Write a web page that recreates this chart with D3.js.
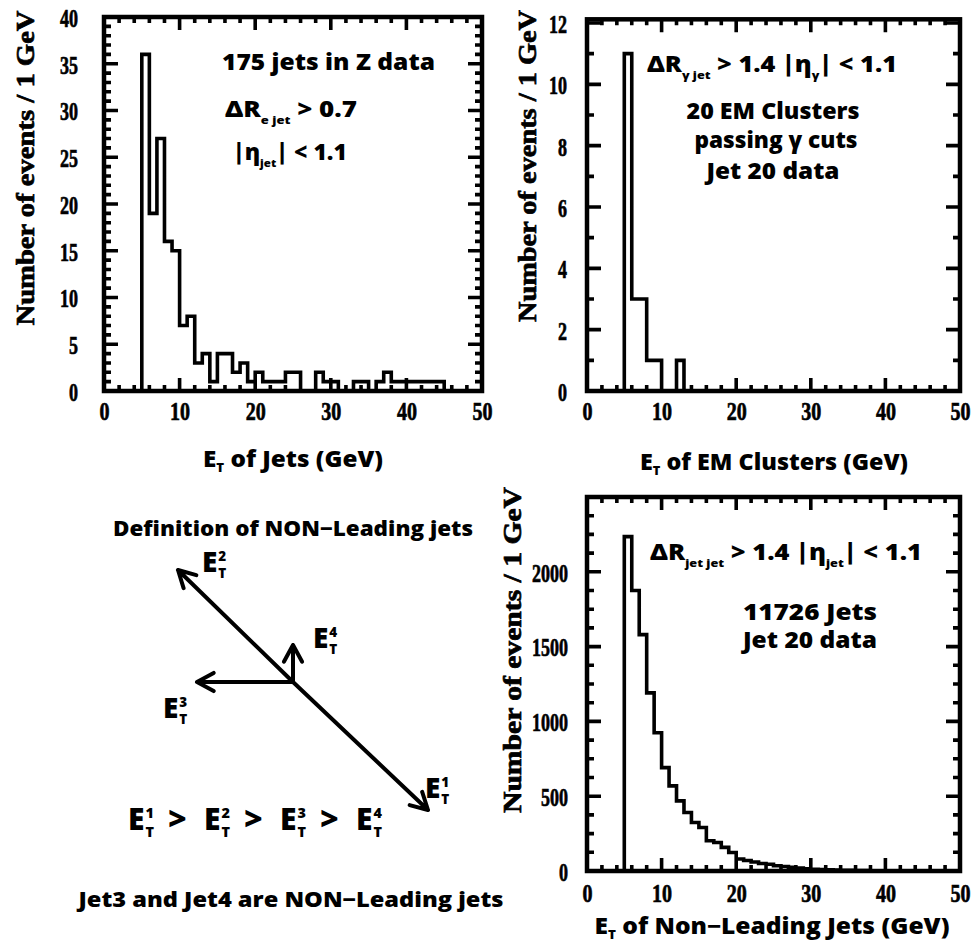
<!DOCTYPE html>
<html>
<head>
<meta charset="utf-8">
<script src="https://cdn.jsdelivr.net/npm/d3@7"></script>
<style>
  body { margin: 0; background: #fff; }
  .ann { font-family: "Open Sans", "DejaVu Sans", sans-serif; font-weight: 800; fill: #000; }
  .num { font-family: "Liberation Serif", "DejaVu Serif", serif; font-weight: 700; fill: #000; stroke: #000; stroke-width: 0.7px; }
</style>
</head>
<body>
<div id="chart"></div>
<script>
// histogram data, 1 GeV bins, first bin starts at 5 GeV
var binStart = 5;
var zJetCounts = [36, 19, 27, 16, 15, 7, 8, 3, 4, 1, 4, 4, 2, 3, 1, 2, 1, 1, 1, 2,
                  2, 0, 0, 2, 1, 1, 0, 0, 1, 1, 0, 1, 2, 1, 1, 1, 1, 1, 1, 1];
var emCounts = [11, 3, 3, 1, 1, 0, 0, 1];
var nonLeadCounts = [2235, 1875, 1580, 1191, 924, 691, 569, 469, 391, 324, 291, 202, 191, 158, 124,
                     80, 70, 60, 50, 45, 35, 30, 25, 20, 15, 12, 10, 8, 6, 5, 4, 3, 3, 2, 2, 1];

// tick labels
var xTickLabels = [0, 10, 20, 30, 40, 50];
var zJetYLabels = [0, 5, 10, 15, 20, 25, 30, 35, 40];
var emYLabels = [0, 2, 4, 6, 8, 10, 12];
var nonLeadYLabels = [0, 500, 1000, 1500, 2000];

// jet transverse energy vectors for the sketch (arbitrary units, y up)
var jetNames = ["1", "2", "3", "4"];
var jetVx = [1.35, -1.15, -0.96, 0];
var jetVy = [-1.28, 1.12, 0, 0.37];

var W = 976, H = 944;
var svg = d3.select("#chart").append("svg")
    .attr("width", W)
    .attr("height", H);

// draws one histogram panel
function drawPanel(p) {
  var g = svg.append("g");
  var x = d3.scaleLinear().domain([0, 50]).range([p.x0, p.x1]);
  var y = d3.scaleLinear().domain([0, p.ymax]).range([p.y0, p.y1]);
  var yTop = y(p.frameTop);

  // tick labels
  var xl = g.append("g")
    .attr("transform", "translate(0," + p.y0 + ")")
    .call(d3.axisBottom(x).tickValues(xTickLabels).tickSize(0).tickFormat(d3.format("d")));
  xl.select(".domain").remove();
  xl.selectAll("text")
    .attr("class", "num")
    .attr("y", p.xLabelY - p.y0)
    .attr("dy", null)
    .style("font-size", "26px")
    .attr("textLength", function(d) { return String(d).length * 10; })
    .attr("lengthAdjust", "spacingAndGlyphs");

  var yl = g.append("g")
    .attr("transform", "translate(" + p.x0 + ",0)")
    .call(d3.axisLeft(y).tickValues(p.yLabels).tickSize(0).tickFormat(d3.format("d")));
  yl.select(".domain").remove();
  yl.selectAll("text")
    .attr("class", "num")
    .attr("x", -p.yLabelGap)
    .attr("dy", "0.36em")
    .style("font-size", "26px")
    .attr("textLength", function(d) { return String(d).length * 9; })
    .attr("lengthAdjust", "spacingAndGlyphs");

  // histogram outline
  var pts = [[binStart, 0]];
  p.counts.forEach(function(c, i) {
    pts.push([binStart + i, c]);
    pts.push([binStart + i + 1, c]);
  });
  pts.push([binStart + p.counts.length, 0]);
  var histD = d3.line().x(function(d) { return x(d[0]); }).y(function(d) { return y(d[1]); })(pts);

  // inward ticks on all four sides, added to the same outline path
  var tk = d3.path();
  [[d3.range(0, 50.01, 2), 6], [d3.range(0, 50.01, 10), 13]].forEach(function(s) {
    s[0].forEach(function(v) {
      tk.moveTo(x(v), p.y0); tk.lineTo(x(v), p.y0 - s[1]);
      tk.moveTo(x(v), yTop); tk.lineTo(x(v), yTop + s[1]);
    });
  });
  [[d3.range(0, p.ymax + 0.001, p.yMinor), 7], [p.yLabels, 14]].forEach(function(s) {
    s[0].forEach(function(v) {
      tk.moveTo(p.x0, y(v)); tk.lineTo(p.x0 + s[1], y(v));
      tk.moveTo(p.x1, y(v)); tk.lineTo(p.x1 - s[1], y(v));
    });
  });

  g.append("path")
    .attr("fill", "none")
    .attr("stroke", "#000")
    .attr("stroke-width", 3.6)
    .attr("d", histD + tk.toString());

  // frame
  g.append("rect")
    .attr("x", p.x0)
    .attr("y", yTop)
    .attr("width", p.x1 - p.x0)
    .attr("height", p.y0 - yTop)
    .attr("fill", "none")
    .attr("stroke", "#000")
    .attr("stroke-width", 4.5);

  // y axis title
  g.append("text")
    .attr("class", "num")
    .attr("transform", "translate(" + p.yTitleX + "," + p.yTitleY + ") rotate(-90)")
    .attr("text-anchor", "middle")
    .attr("dy", "0.35em")
    .style("font-size", "25px")
    .attr("textLength", p.yTitleLen)
    .attr("lengthAdjust", "spacingAndGlyphs")
    .text("Number of events / 1 GeV");

  // x axis title: E_T of ...
  var xt = g.append("text")
    .attr("class", "ann")
    .attr("x", p.xTitleX)
    .attr("y", p.xTitleY)
    .attr("text-anchor", "middle")
    .style("font-size", "22px");
  xt.append("tspan").text("E");
  xt.append("tspan").attr("dy", 5).style("font-size", "12px").text("T");
  xt.append("tspan").attr("dy", -5).text(p.xTitle);
  xt.attr("textLength", p.xTitleLen).attr("lengthAdjust", "spacingAndGlyphs");

  return g;
}

// text with subscripts: parts = [[text, isSub], ...]
function subText(g, xPos, yPos, size, parts, anchor, len) {
  var t = g.append("text")
    .attr("class", "ann")
    .attr("x", xPos)
    .attr("y", yPos)
    .attr("text-anchor", anchor || "start")
    .style("font-size", size + "px");
  var sub = false;
  parts.forEach(function(pt) {
    var s = t.append("tspan").text(pt[0]);
    if (pt[1] && !sub) { s.attr("dy", size * 0.3).style("font-size", (size * 0.5) + "px"); sub = true; }
    else if (pt[1]) { s.style("font-size", (size * 0.5) + "px"); }
    else if (sub) { s.attr("dy", -size * 0.3); sub = false; }
  });
  if (len) t.attr("textLength", len).attr("lengthAdjust", "spacingAndGlyphs");
  return t;
}

// ---- panel 1: jets in Z data
var g1 = drawPanel({
  x0: 104, x1: 482, y0: 391, y1: 17, ymax: 40, frameTop: 40, yMinor: 1,
  yLabels: zJetYLabels, counts: zJetCounts,
  xLabelY: 420, yLabelGap: 26, yTitleX: 25, yTitleY: 168, yTitleLen: 315,
  xTitleX: 293, xTitleY: 467, xTitle: " of Jets (GeV)", xTitleLen: 180
});
subText(g1, 222, 70, 22, [["175 jets in Z data"]], "start", 213);
subText(g1, 225, 117, 22, [["ΔR"], ["e jet", 1], [" > 0.7"]], "start", 132);
subText(g1, 233, 160, 22, [["|η"], ["jet", 1], ["| < 1.1"]], "start", 114);

// ---- panel 2: EM clusters
var g2 = drawPanel({
  x0: 587, x1: 960, y0: 391, y1: 23, ymax: 12, frameTop: 12.12, yMinor: 1,
  yLabels: emYLabels, counts: emCounts,
  xLabelY: 420, yLabelGap: 20, yTitleX: 527, yTitleY: 166, yTitleLen: 312,
  xTitleX: 774, xTitleY: 470, xTitle: " of EM Clusters (GeV)", xTitleLen: 268
});
subText(g2, 647, 72, 22, [["ΔR"], ["γ jet", 1], [" > 1.4  |η"], ["γ", 1], ["| < 1.1"]], "start", 250);
subText(g2, 773, 119, 22, [["20 EM Clusters"]], "middle", 173);
subText(g2, 776, 148, 22, [["passing γ cuts"]], "middle", 163);
subText(g2, 773, 179, 22, [["Jet 20 data"]], "middle", 133);

// ---- panel 3: non-leading jets
var g3 = drawPanel({
  x0: 587, x1: 960, y0: 871, y1: 497, ymax: 2500, frameTop: 2500, yMinor: 125,
  yLabels: nonLeadYLabels, counts: nonLeadCounts,
  xLabelY: 902, yLabelGap: 19, yTitleX: 512, yTitleY: 650, yTitleLen: 326,
  xTitleX: 772, xTitleY: 934, xTitle: " of Non\u2212Leading Jets  (GeV)", xTitleLen: 355
});
subText(g3, 650, 560, 22, [["ΔR"], ["jet jet", 1], [" > 1.4  |η"], ["jet", 1], ["| < 1.1"]], "start", 272);
subText(g3, 810, 620, 22, [["11726 Jets"]], "middle", 134);
subText(g3, 810, 648, 22, [["Jet 20 data"]], "middle", 134);

// ---- sketch: definition of non-leading jets
var gd = svg.append("g");
var cx = 293, cy = 682;
var sx = d3.scaleLinear().domain([-2, 2]).range([cx - 200, cx + 200]);
var sy = d3.scaleLinear().domain([-2, 2]).range([cy + 200, cy - 200]);
// label offsets from arrow tips
var labelDx = [-3, 24, -34, 20];
var labelDy = [-12, 2, 36, 3];

// E_T with stacked sub/superscript
function eT(g, xPos, yPos, size, sup) {
  g.append("text").attr("class", "ann").attr("x", xPos).attr("y", yPos)
    .style("font-size", size + "px").text("E");
  g.append("text").attr("class", "ann").attr("x", xPos + size * 0.58).attr("y", yPos + size * 0.22)
    .style("font-size", (size * 0.48) + "px").text("T");
  g.append("text").attr("class", "ann").attr("x", xPos + size * 0.58).attr("y", yPos - size * 0.4)
    .style("font-size", (size * 0.48) + "px").text(sup);
}

jetNames.forEach(function(n, i) {
  var tipX = sx(jetVx[i]), tipY = sy(jetVy[i]);
  var ang = Math.atan2(tipY - cy, tipX - cx);
  var a = d3.path();
  a.moveTo(cx, cy); a.lineTo(tipX, tipY);
  [-0.5, 0.5].forEach(function(da) {
    a.moveTo(tipX, tipY);
    a.lineTo(tipX - 19 * Math.cos(ang + da), tipY - 19 * Math.sin(ang + da));
  });
  gd.append("path")
    .attr("d", a.toString())
    .attr("fill", "none")
    .attr("stroke", "#000").attr("stroke-width", 4)
    .attr("stroke-linecap", "round");
  eT(gd, tipX + labelDx[i], tipY + labelDy[i], 28, n);
});

subText(gd, 293, 536, 21, [["Definition of NON\u2212Leading jets"]], "middle", 360);
subText(gd, 291, 907, 21, [["Jet3 and Jet4 are NON\u2212Leading jets"]], "middle", 425);

// E_T^1 > E_T^2 > E_T^3 > E_T^4
jetNames.forEach(function(n, i) {
  eT(gd, 128 + i * 76, 830, 30, n);
  if (i < 3) {
    gd.append("text").attr("class", "ann")
      .attr("x", 168 + i * 76).attr("y", 830)
      .style("font-size", "32px").text(">");
  }
});
</script>
</body>
</html>
